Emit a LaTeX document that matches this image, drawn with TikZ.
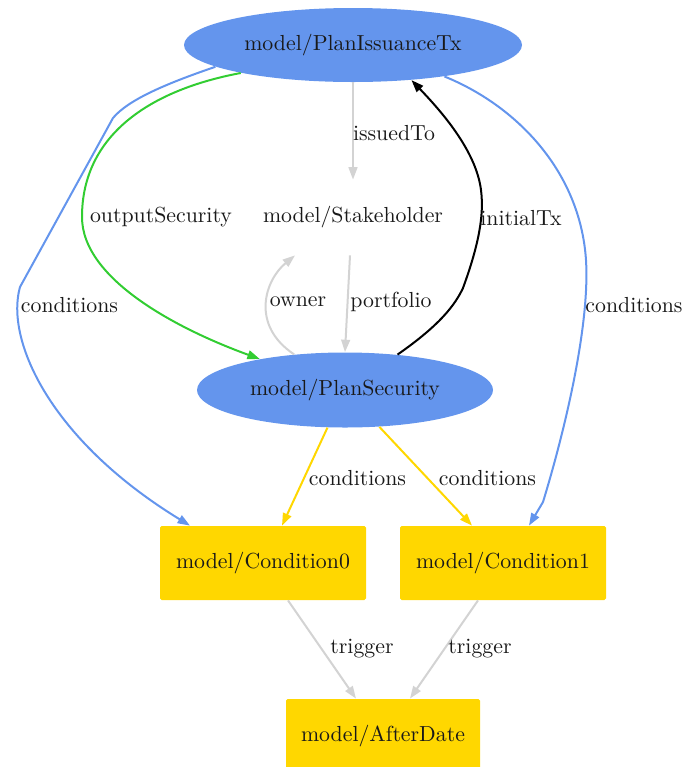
\documentclass[tikz,border=0pt]{standalone}
\usetikzlibrary{arrows.meta,shapes.geometric}
\definecolor{nodeblue}{HTML}{6495ED}
\definecolor{nodegold}{HTML}{FFD700}
\definecolor{edgegreen}{HTML}{32CD32}
\definecolor{edgegray}{HTML}{D3D3D3}
\begin{document}
\begin{tikzpicture}[x=0.5pt,y=-0.5pt,
  every node/.style={font=\fontsize{10.9}{13}\selectfont, text=black!90},
  blueell/.style={ellipse, fill=nodeblue, inner sep=0pt},
  goldbox/.style={rectangle, fill=nodegold, rounded corners=0.8pt, inner sep=0pt,
                  minimum height=37pt},
  plain/.style={inner sep=0pt, minimum width=90pt, minimum height=37.5pt},
  rel/.style={line width=1pt, -{Triangle[length=6.2pt,width=4.4pt]}},
  lbl/.style={inner sep=1pt},
]
\useasboundingbox (0,0) rectangle (682,767);

% nodes
\node[blueell, minimum width=169pt, minimum height=37pt] (tx) at (353,45) {model/PlanIssuanceTx};
\node[plain] (st) at (353,217.5) {model/Stakeholder};
\node[blueell, minimum width=148pt, minimum height=37.5pt] (ps) at (345,390) {model/PlanSecurity};
\node[goldbox, minimum width=103pt] (c0) at (263,563) {model/Condition0};
\node[goldbox, minimum width=103pt] (c1) at (503,563) {model/Condition1};
\node[goldbox, minimum width=97pt] (ad) at (383,736) {model/AfterDate};

% issuedTo
\draw[rel, edgegray] (tx.south) -- (st.north);
\node[lbl] (lIssued) at (394,133) {issuedTo};

% outputSecurity
\draw[rel, edgegreen] (tx.194) .. controls (150,90) and (82,135) .. (82,217)
  .. controls (82,280) and (180,330) .. (ps.160);
\node[lbl] (lOutput) at (161,217) {outputSecurity};

% conditions (left, from the issuance)
\draw[rel, nodeblue] (tx.189) .. controls (165,84) and (128,100) .. (113,118)
  -- (20,287) .. controls (5,340) and (50,440) .. ([xshift=-36.5pt]c0.north);
\node[lbl] (lCondL) at (69.5,305) {conditions};

% conditions (right, from the issuance)
\draw[rel, nodeblue] (tx.-19) .. controls (515,105) and (580,170) .. (586,260)
  .. controls (590,325) and (565,430) .. (543,502) -- ([xshift=13pt]c1.north);
\node[lbl] (lCondR) at (634,305) {conditions};

% initialTx
\draw[rel, black] (ps.34) .. controls (440,325) and (455,305) .. (463,288)
  .. controls (475,255) and (485,220) .. (481,190)
  .. controls (476,150) and (440,110) .. (tx.-31);
\node[lbl] (lInitial) at (521,218) {initialTx};

% owner
\draw[rel, edgegray] (ps.145) .. controls (250,325) and (265,280) .. ([xshift=-29pt]st.south);
\node[lbl] (lOwner) at (298,302) {owner};

% portfolio
\draw[rel, edgegray] ([xshift=-1.5pt]st.south) -- (ps.north);
\node[lbl] (lPortfolio) at (391,302) {portfolio};

% conditions of the security
\draw[rel, nodegold] (ps.-115) -- ([xshift=9.5pt]c0.north);
\node[lbl] (lCondA) at (357.5,478) {conditions};
\draw[rel, nodegold] (ps.-47) -- ([xshift=-15.5pt]c1.north);
\node[lbl] (lCondB) at (487.5,478) {conditions};

% triggers
\draw[rel, edgegray] ([xshift=12.5pt]c0.south) -- ([xshift=-13.5pt]ad.north);
\node[lbl] (lTrigA) at (362,649) {trigger};
\draw[rel, edgegray] ([xshift=-12.5pt]c1.south) -- ([xshift=13.5pt]ad.north);
\node[lbl] (lTrigB) at (480,649) {trigger};
\end{tikzpicture}
\end{document}
